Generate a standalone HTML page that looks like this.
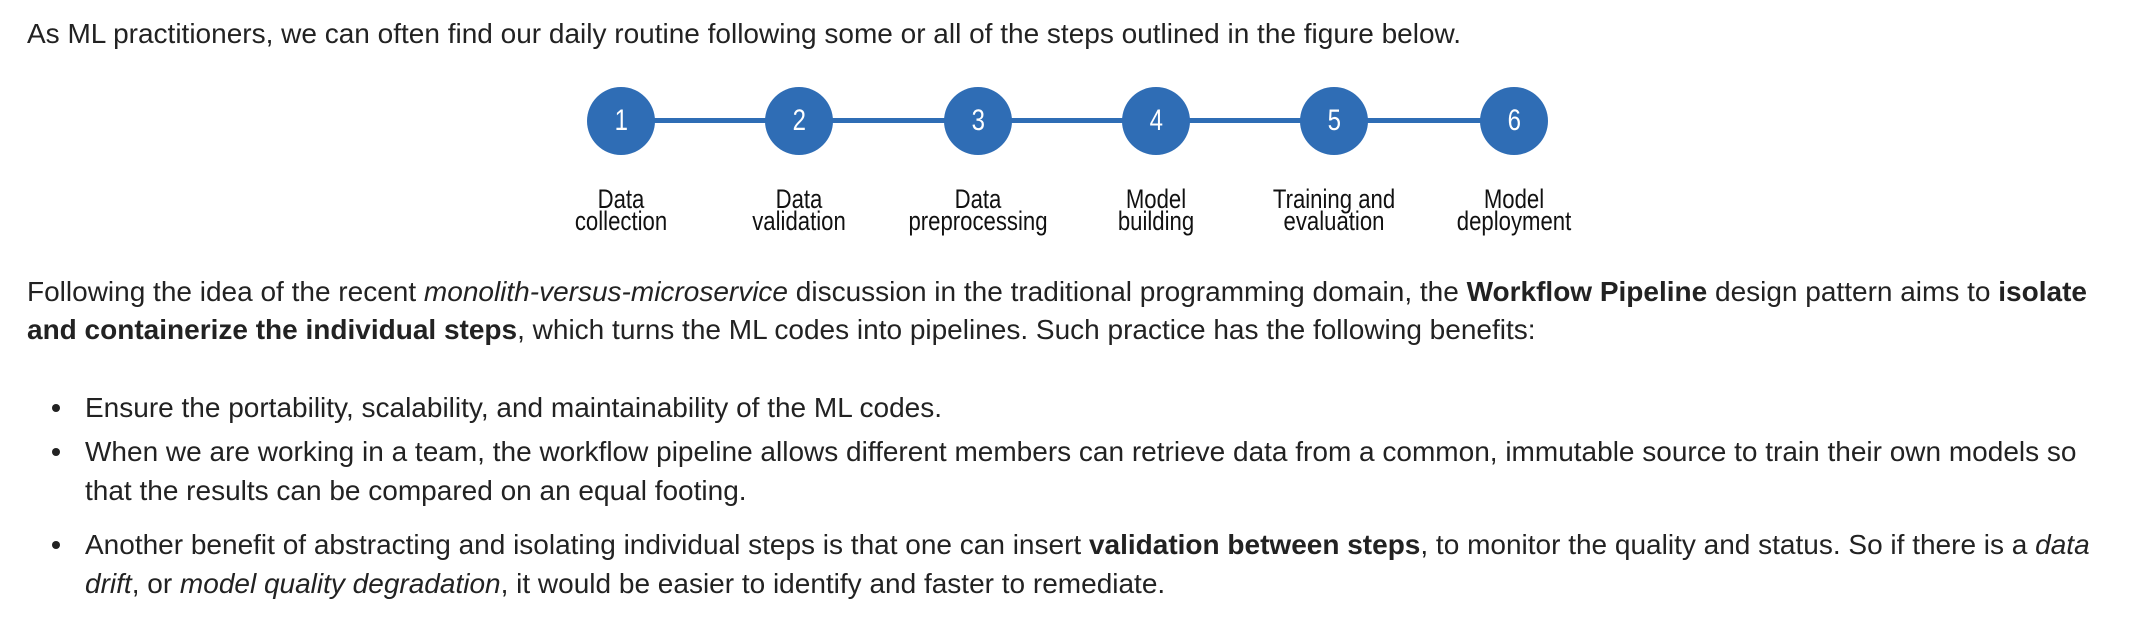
<!DOCTYPE html>
<html><head><meta charset="utf-8"><style>
body{margin:0;width:2150px;height:624px;background:#fff;font-family:"Liberation Sans",Arial,sans-serif;color:#222;font-size:28px;position:relative;overflow:hidden}
.l{position:absolute;left:27px;white-space:nowrap;line-height:32px}
.b{position:absolute;left:85px;white-space:nowrap;line-height:32px}
.dot{position:absolute;left:52px;width:8px;height:8px;border-radius:50%;background:#222}
.c{position:absolute;width:68px;height:68px;border-radius:50%;background:#2f6db5;color:#fff;text-align:center;line-height:68px;font-size:30px;top:87px}
.c span{display:inline-block;transform:scaleX(0.8)}
.lab{position:absolute;width:240px;text-align:center;font-size:27px;line-height:22px;top:188px;transform:scaleX(0.82);color:#111}
</style></head><body>
<div class="l" style="top:18px">As ML practitioners, we can often find our daily routine following some or all of the steps outlined in the figure below.</div>
<div style="position:absolute;left:621px;top:118px;width:893px;height:5px;background:#2f6db5"></div>
<div class="c" style="left:587px"><span>1</span></div>
<div class="c" style="left:765px"><span>2</span></div>
<div class="c" style="left:944px"><span>3</span></div>
<div class="c" style="left:1122px"><span>4</span></div>
<div class="c" style="left:1300px"><span>5</span></div>
<div class="c" style="left:1480px"><span>6</span></div>
<div class="lab" style="left:501px">Data<br>collection</div>
<div class="lab" style="left:679px">Data<br>validation</div>
<div class="lab" style="left:858px">Data<br>preprocessing</div>
<div class="lab" style="left:1036px">Model<br>building</div>
<div class="lab" style="left:1214px">Training and<br>evaluation</div>
<div class="lab" style="left:1394px">Model<br>deployment</div>
<div class="l" style="top:276px">Following the idea of the recent <i>monolith-versus-microservice</i> discussion in the traditional programming domain, the <b>Workflow Pipeline</b> design pattern aims to <b>isolate</b></div>
<div class="l" style="top:314px"><b>and containerize the individual steps</b>, which turns the ML codes into pipelines. Such practice has the following benefits:</div>
<div class="dot" style="top:404px"></div>
<div class="b" style="top:392px">Ensure the portability, scalability, and maintainability of the ML codes.</div>
<div class="dot" style="top:448px"></div>
<div class="b" style="top:436px">When we are working in a team, the workflow pipeline allows different members can retrieve data from a common, immutable source to train their own models so</div>
<div class="b" style="top:475px">that the results can be compared on an equal footing.</div>
<div class="dot" style="top:541px"></div>
<div class="b" style="top:529px">Another benefit of abstracting and isolating individual steps is that one can insert <b>validation between steps</b>, to monitor the quality and status. So if there is a <i>data</i></div>
<div class="b" style="top:568px"><i>drift</i>, or <i>model quality degradation</i>, it would be easier to identify and faster to remediate.</div>
</body></html>
